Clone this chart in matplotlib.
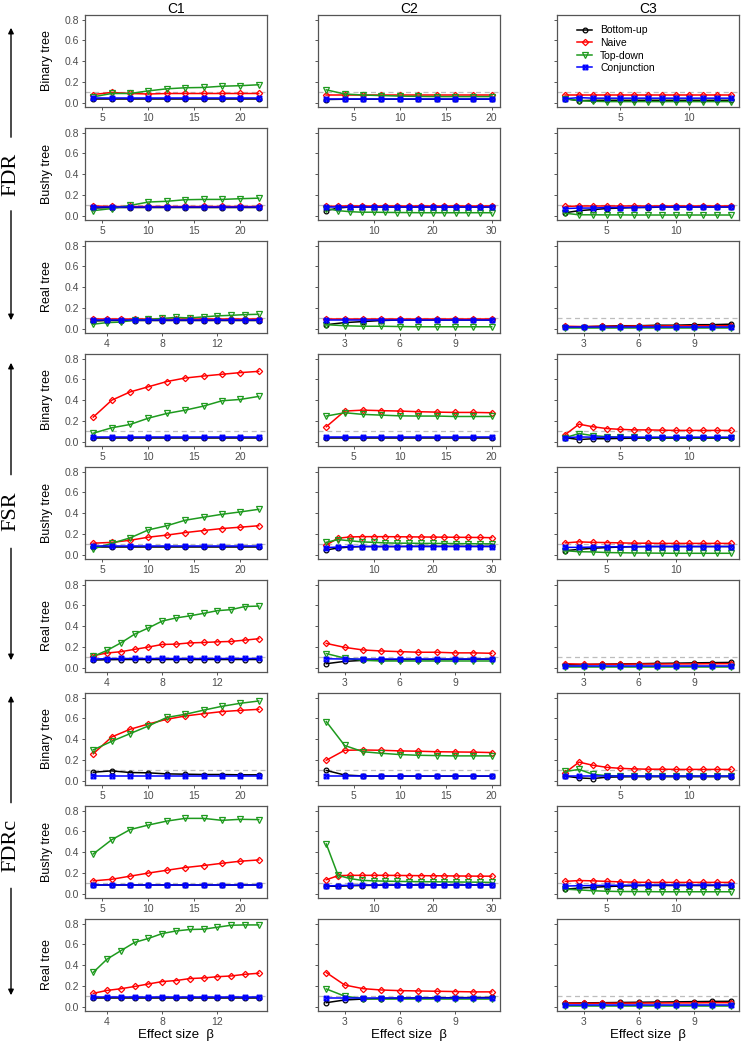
import matplotlib
matplotlib.use("Agg")
import matplotlib.pyplot as plt
from matplotlib.path import Path
from matplotlib.patches import FancyArrowPatch

# x values (effect size beta) for each column / tree type
x_c1_tree = [4, 6, 8, 10, 12, 14, 16, 18, 20, 22]
x_c1_real = [3, 4, 5, 6, 7, 8, 9, 10, 11, 12, 13, 14, 15]
x_c2_bin = [2, 4, 6, 8, 10, 12, 14, 16, 18, 20]
x_c2_bushy = [2, 4, 6, 8, 10, 12, 14, 16, 18, 20, 22, 24, 26, 28, 30]
x_c2_real = [2, 3, 4, 5, 6, 7, 8, 9, 10, 11]
x_c3_bin = [1, 2, 3, 4, 5, 6, 7, 8, 9, 10, 11, 12, 13]
x_c3_bushy = [2, 3, 4, 5, 6, 7, 8, 9, 10, 11, 12, 13, 14]
x_c3_real = [2, 3, 4, 5, 6, 7, 8, 9, 10, 11]

methods = ["Bottom-up", "Naive", "Top-down", "Conjunction"]
row_names = ["Binary tree", "Bushy tree", "Real tree"]
col_names = ["C1", "C2", "C3"]
metrics = ["FDR", "FSR", "FDRc"]

# each panel: [bottom-up, naive, top-down, conjunction]
# ---------------- FDR ----------------
fdr_bin_c1 = [
    [0.04, 0.04, 0.04, 0.04, 0.04, 0.04, 0.04, 0.04, 0.04, 0.04],
    [0.08, 0.10, 0.09, 0.085, 0.09, 0.09, 0.09, 0.09, 0.09, 0.09],
    [0.058, 0.09, 0.09, 0.115, 0.135, 0.145, 0.148, 0.16, 0.165, 0.174],
    [0.045, 0.045, 0.045, 0.045, 0.045, 0.045, 0.045, 0.045, 0.045, 0.045],
]
fdr_bin_c2 = [
    [0.032, 0.035, 0.035, 0.035, 0.035, 0.035, 0.035, 0.035, 0.035, 0.035],
    [0.08, 0.08, 0.08, 0.08, 0.08, 0.08, 0.08, 0.08, 0.08, 0.08],
    [0.125, 0.085, 0.075, 0.07, 0.065, 0.062, 0.06, 0.06, 0.06, 0.06],
    [0.04, 0.04, 0.04, 0.04, 0.04, 0.04, 0.04, 0.04, 0.04, 0.04],
]
fdr_bin_c3 = [
    [0.04, 0.02, 0.025, 0.025, 0.025, 0.025, 0.025, 0.025, 0.025, 0.025, 0.025, 0.025, 0.025],
    [0.08, 0.08, 0.08, 0.08, 0.08, 0.08, 0.08, 0.08, 0.08, 0.08, 0.08, 0.08, 0.08],
    [0.04, 0.02, 0.015, 0.012, 0.012, 0.012, 0.012, 0.012, 0.012, 0.012, 0.012, 0.012, 0.012],
    [0.04, 0.05, 0.045, 0.045, 0.045, 0.045, 0.045, 0.045, 0.045, 0.045, 0.045, 0.045, 0.045],
]
fdr_bushy_c1 = [
    [0.075, 0.08, 0.08, 0.08, 0.08, 0.08, 0.08, 0.08, 0.08, 0.08],
    [0.095, 0.09, 0.09, 0.09, 0.09, 0.09, 0.09, 0.09, 0.09, 0.09],
    [0.05, 0.07, 0.10, 0.133, 0.14, 0.155, 0.158, 0.158, 0.165, 0.17],
    [0.085, 0.085, 0.085, 0.085, 0.085, 0.085, 0.085, 0.085, 0.085, 0.085],
]
fdr_bushy_c2 = [
    [0.05, 0.075, 0.085, 0.085, 0.085, 0.085, 0.085, 0.085, 0.085, 0.085, 0.085, 0.085, 0.085, 0.085, 0.085],
    [0.09, 0.095, 0.095, 0.095, 0.095, 0.095, 0.095, 0.095, 0.095, 0.095, 0.095, 0.095, 0.095, 0.095, 0.095],
    [0.07, 0.05, 0.04, 0.035, 0.035, 0.033, 0.032, 0.031, 0.03, 0.03, 0.03, 0.03, 0.03, 0.03, 0.03],
    [0.085, 0.085, 0.085, 0.085, 0.085, 0.085, 0.085, 0.085, 0.085, 0.085, 0.085, 0.085, 0.085, 0.085, 0.085],
]
fdr_bushy_c3 = [
    [0.03, 0.05, 0.06, 0.07, 0.075, 0.08, 0.08, 0.085, 0.085, 0.085, 0.085, 0.085, 0.085],
    [0.09, 0.095, 0.095, 0.095, 0.095, 0.095, 0.095, 0.095, 0.095, 0.095, 0.095, 0.095, 0.095],
    [0.025, 0.01, 0.01, 0.009, 0.009, 0.008, 0.008, 0.008, 0.008, 0.008, 0.008, 0.008, 0.008],
    [0.07, 0.075, 0.075, 0.08, 0.08, 0.08, 0.085, 0.085, 0.085, 0.085, 0.085, 0.085, 0.085],
]
fdr_real_c1 = [
    [0.075, 0.08, 0.08, 0.08, 0.08, 0.08, 0.08, 0.08, 0.08, 0.08, 0.08, 0.08, 0.08],
    [0.09, 0.09, 0.09, 0.09, 0.09, 0.09, 0.09, 0.09, 0.09, 0.09, 0.09, 0.09, 0.09],
    [0.045, 0.06, 0.065, 0.085, 0.09, 0.10, 0.11, 0.105, 0.115, 0.125, 0.13, 0.137, 0.14],
    [0.085, 0.085, 0.085, 0.085, 0.085, 0.085, 0.085, 0.085, 0.085, 0.085, 0.085, 0.085, 0.085],
]
fdr_real_c2 = [
    [0.04, 0.06, 0.07, 0.08, 0.085, 0.085, 0.085, 0.085, 0.085, 0.085],
    [0.09, 0.09, 0.09, 0.09, 0.09, 0.09, 0.09, 0.09, 0.09, 0.09],
    [0.04, 0.03, 0.025, 0.025, 0.022, 0.02, 0.02, 0.02, 0.02, 0.02],
    [0.085, 0.085, 0.085, 0.085, 0.085, 0.085, 0.085, 0.085, 0.085, 0.085],
]
fdr_real_c3 = [
    [0.02, 0.02, 0.025, 0.03, 0.03, 0.035, 0.035, 0.04, 0.04, 0.045],
    [0.025, 0.022, 0.025, 0.025, 0.028, 0.028, 0.03, 0.03, 0.03, 0.03],
    [0.005, 0.005, 0.005, 0.005, 0.005, 0.005, 0.005, 0.005, 0.005, 0.005],
    [0.015, 0.015, 0.015, 0.015, 0.015, 0.015, 0.015, 0.015, 0.015, 0.015],
]
# ---------------- FSR ----------------
fsr_bin_c1 = [
    [0.04, 0.04, 0.04, 0.04, 0.04, 0.04, 0.04, 0.04, 0.04, 0.04],
    [0.238, 0.40, 0.48, 0.53, 0.58, 0.614, 0.633, 0.65, 0.666, 0.678],
    [0.083, 0.135, 0.167, 0.228, 0.273, 0.305, 0.344, 0.395, 0.408, 0.437],
    [0.045, 0.045, 0.045, 0.045, 0.045, 0.045, 0.045, 0.045, 0.045, 0.045],
]
fsr_bin_c2 = [
    [0.035, 0.035, 0.035, 0.035, 0.035, 0.035, 0.035, 0.035, 0.035, 0.035],
    [0.145, 0.296, 0.305, 0.30, 0.296, 0.29, 0.286, 0.283, 0.283, 0.28],
    [0.248, 0.28, 0.264, 0.257, 0.25, 0.248, 0.248, 0.244, 0.244, 0.244],
    [0.045, 0.045, 0.045, 0.045, 0.045, 0.045, 0.045, 0.045, 0.045, 0.045],
]
fsr_bin_c3 = [
    [0.04, 0.022, 0.03, 0.03, 0.033, 0.035, 0.035, 0.035, 0.035, 0.035, 0.035, 0.035, 0.035],
    [0.07, 0.17, 0.145, 0.128, 0.12, 0.115, 0.115, 0.112, 0.11, 0.11, 0.11, 0.11, 0.11],
    [0.04, 0.08, 0.06, 0.05, 0.045, 0.042, 0.04, 0.04, 0.04, 0.04, 0.04, 0.04, 0.04],
    [0.04, 0.047, 0.045, 0.045, 0.045, 0.045, 0.045, 0.045, 0.045, 0.045, 0.045, 0.045, 0.045],
]
fsr_bushy_c1 = [
    [0.08, 0.08, 0.08, 0.08, 0.08, 0.08, 0.08, 0.08, 0.08, 0.08],
    [0.112, 0.12, 0.14, 0.17, 0.19, 0.214, 0.234, 0.253, 0.266, 0.28],
    [0.058, 0.11, 0.163, 0.24, 0.28, 0.333, 0.362, 0.39, 0.413, 0.438],
    [0.085, 0.085, 0.085, 0.085, 0.085, 0.085, 0.085, 0.085, 0.085, 0.085],
]
fsr_bushy_c2 = [
    [0.047, 0.066, 0.075, 0.08, 0.08, 0.08, 0.08, 0.082, 0.082, 0.082, 0.082, 0.082, 0.082, 0.082, 0.082],
    [0.095, 0.16, 0.172, 0.175, 0.175, 0.175, 0.174, 0.173, 0.172, 0.171, 0.17, 0.169, 0.168, 0.167, 0.165],
    [0.12, 0.147, 0.135, 0.125, 0.12, 0.115, 0.112, 0.112, 0.11, 0.11, 0.109, 0.108, 0.107, 0.106, 0.106],
    [0.07, 0.075, 0.08, 0.08, 0.08, 0.08, 0.08, 0.08, 0.08, 0.08, 0.08, 0.08, 0.08, 0.08, 0.08],
]
fsr_bushy_c3 = [
    [0.04, 0.053, 0.063, 0.07, 0.075, 0.078, 0.08, 0.08, 0.08, 0.08, 0.08, 0.08, 0.08],
    [0.115, 0.125, 0.12, 0.118, 0.115, 0.112, 0.112, 0.11, 0.11, 0.11, 0.11, 0.11, 0.11],
    [0.04, 0.03, 0.028, 0.022, 0.02, 0.018, 0.017, 0.016, 0.015, 0.015, 0.015, 0.015, 0.015],
    [0.072, 0.072, 0.075, 0.077, 0.078, 0.079, 0.08, 0.08, 0.08, 0.08, 0.08, 0.08, 0.08],
]
fsr_real_c1 = [
    [0.075, 0.078, 0.08, 0.08, 0.08, 0.08, 0.08, 0.08, 0.08, 0.08, 0.08, 0.08, 0.08],
    [0.117, 0.143, 0.155, 0.178, 0.2, 0.225, 0.228, 0.24, 0.244, 0.25, 0.254, 0.267, 0.28],
    [0.11, 0.168, 0.24, 0.324, 0.384, 0.45, 0.48, 0.50, 0.524, 0.55, 0.56, 0.59, 0.594],
    [0.085, 0.088, 0.09, 0.09, 0.09, 0.09, 0.09, 0.09, 0.09, 0.09, 0.09, 0.09, 0.09],
]
fsr_real_c2 = [
    [0.04, 0.062, 0.072, 0.078, 0.078, 0.08, 0.08, 0.082, 0.083, 0.084],
    [0.235, 0.197, 0.172, 0.162, 0.156, 0.15, 0.15, 0.144, 0.144, 0.14],
    [0.137, 0.094, 0.072, 0.066, 0.066, 0.066, 0.066, 0.066, 0.066, 0.066],
    [0.087, 0.085, 0.085, 0.085, 0.085, 0.085, 0.085, 0.085, 0.085, 0.085],
]
fsr_real_c3 = [
    [0.03, 0.032, 0.035, 0.038, 0.04, 0.043, 0.045, 0.048, 0.05, 0.052],
    [0.04, 0.035, 0.035, 0.035, 0.037, 0.037, 0.038, 0.038, 0.04, 0.04],
    [0.01, 0.01, 0.01, 0.01, 0.01, 0.01, 0.01, 0.01, 0.01, 0.01],
    [0.02, 0.02, 0.02, 0.02, 0.02, 0.02, 0.02, 0.02, 0.02, 0.02],
]
# ---------------- FDRc ----------------
fdrc_bin_c1 = [
    [0.083, 0.096, 0.08, 0.077, 0.067, 0.064, 0.061, 0.061, 0.058, 0.058],
    [0.26, 0.422, 0.496, 0.547, 0.592, 0.624, 0.646, 0.666, 0.678, 0.688],
    [0.298, 0.38, 0.454, 0.528, 0.61, 0.64, 0.68, 0.717, 0.746, 0.768],
    [0.048, 0.048, 0.048, 0.048, 0.048, 0.048, 0.048, 0.048, 0.048, 0.048],
]
fdrc_bin_c2 = [
    [0.10, 0.056, 0.047, 0.045, 0.045, 0.045, 0.045, 0.045, 0.045, 0.045],
    [0.198, 0.294, 0.297, 0.294, 0.288, 0.285, 0.28, 0.278, 0.276, 0.272],
    [0.57, 0.34, 0.28, 0.265, 0.253, 0.246, 0.243, 0.24, 0.24, 0.24],
    [0.045, 0.045, 0.045, 0.045, 0.045, 0.045, 0.045, 0.045, 0.045, 0.045],
]
fdrc_bin_c3 = [
    [0.045, 0.028, 0.022, 0.035, 0.038, 0.04, 0.04, 0.04, 0.04, 0.04, 0.04, 0.04, 0.04],
    [0.08, 0.18, 0.15, 0.13, 0.12, 0.115, 0.112, 0.112, 0.11, 0.11, 0.11, 0.11, 0.11],
    [0.09, 0.11, 0.063, 0.05, 0.048, 0.046, 0.045, 0.045, 0.045, 0.045, 0.045, 0.045, 0.045],
    [0.045, 0.045, 0.045, 0.045, 0.045, 0.045, 0.045, 0.045, 0.045, 0.045, 0.045, 0.045, 0.045],
]
fdrc_bushy_c1 = [
    [0.085, 0.085, 0.085, 0.085, 0.085, 0.085, 0.085, 0.085, 0.085, 0.085],
    [0.125, 0.14, 0.17, 0.2, 0.227, 0.253, 0.272, 0.294, 0.314, 0.326],
    [0.384, 0.52, 0.618, 0.662, 0.70, 0.726, 0.726, 0.707, 0.717, 0.714],
    [0.085, 0.085, 0.085, 0.085, 0.085, 0.085, 0.085, 0.085, 0.085, 0.085],
]
fdrc_bushy_c2 = [
    [0.075, 0.072, 0.078, 0.08, 0.082, 0.083, 0.084, 0.085, 0.085, 0.085, 0.085, 0.085, 0.085, 0.085, 0.085],
    [0.135, 0.175, 0.178, 0.178, 0.178, 0.178, 0.177, 0.176, 0.175, 0.174, 0.173, 0.172, 0.171, 0.17, 0.17],
    [0.48, 0.178, 0.147, 0.13, 0.125, 0.122, 0.12, 0.118, 0.117, 0.116, 0.115, 0.114, 0.113, 0.112, 0.11],
    [0.075, 0.08, 0.082, 0.085, 0.085, 0.085, 0.085, 0.085, 0.085, 0.085, 0.085, 0.085, 0.085, 0.085, 0.085],
]
fdrc_bushy_c3 = [
    [0.045, 0.055, 0.063, 0.07, 0.075, 0.078, 0.08, 0.08, 0.08, 0.08, 0.08, 0.08, 0.08],
    [0.12, 0.128, 0.125, 0.12, 0.115, 0.112, 0.11, 0.11, 0.11, 0.11, 0.11, 0.11, 0.11],
    [0.045, 0.038, 0.03, 0.025, 0.022, 0.022, 0.021, 0.02, 0.02, 0.02, 0.02, 0.02, 0.02],
    [0.075, 0.078, 0.08, 0.082, 0.083, 0.084, 0.085, 0.085, 0.085, 0.085, 0.085, 0.085, 0.085],
]
fdrc_real_c1 = [
    [0.085, 0.085, 0.085, 0.085, 0.085, 0.085, 0.085, 0.085, 0.085, 0.085, 0.085, 0.085, 0.085],
    [0.13, 0.158, 0.174, 0.196, 0.22, 0.243, 0.253, 0.272, 0.278, 0.29, 0.297, 0.313, 0.323],
    [0.332, 0.459, 0.54, 0.62, 0.658, 0.705, 0.73, 0.744, 0.747, 0.766, 0.785, 0.788, 0.788],
    [0.09, 0.09, 0.09, 0.09, 0.09, 0.09, 0.09, 0.09, 0.09, 0.09, 0.09, 0.09, 0.09],
]
fdrc_real_c2 = [
    [0.04, 0.066, 0.075, 0.08, 0.083, 0.085, 0.087, 0.088, 0.089, 0.09],
    [0.33, 0.21, 0.175, 0.162, 0.156, 0.153, 0.15, 0.147, 0.144, 0.144],
    [0.172, 0.103, 0.078, 0.075, 0.075, 0.075, 0.075, 0.075, 0.075, 0.075],
    [0.088, 0.088, 0.088, 0.088, 0.088, 0.088, 0.088, 0.088, 0.088, 0.088],
]
fdrc_real_c3 = [
    [0.037, 0.038, 0.04, 0.042, 0.044, 0.046, 0.048, 0.05, 0.052, 0.053],
    [0.035, 0.033, 0.035, 0.035, 0.036, 0.037, 0.038, 0.038, 0.04, 0.04],
    [0.01, 0.01, 0.01, 0.01, 0.01, 0.01, 0.01, 0.01, 0.01, 0.01],
    [0.02, 0.02, 0.02, 0.02, 0.02, 0.02, 0.02, 0.02, 0.02, 0.02],
]

panels = [
    [fdr_bin_c1, fdr_bin_c2, fdr_bin_c3],
    [fdr_bushy_c1, fdr_bushy_c2, fdr_bushy_c3],
    [fdr_real_c1, fdr_real_c2, fdr_real_c3],
    [fsr_bin_c1, fsr_bin_c2, fsr_bin_c3],
    [fsr_bushy_c1, fsr_bushy_c2, fsr_bushy_c3],
    [fsr_real_c1, fsr_real_c2, fsr_real_c3],
    [fdrc_bin_c1, fdrc_bin_c2, fdrc_bin_c3],
    [fdrc_bushy_c1, fdrc_bushy_c2, fdrc_bushy_c3],
    [fdrc_real_c1, fdrc_real_c2, fdrc_real_c3],
]
xs = [
    [x_c1_tree, x_c2_bin, x_c3_bin],
    [x_c1_tree, x_c2_bushy, x_c3_bushy],
    [x_c1_real, x_c2_real, x_c3_real],
]
xticks = [
    [[5, 10, 15, 20], [5, 10, 15, 20], [5, 10]],
    [[5, 10, 15, 20], [10, 20, 30], [5, 10]],
    [[4, 8, 12], [3, 6, 9], [3, 6, 9]],
]

# square with a cross, like ggplot shape 7
sq_cross = Path(
    [(-1, -1), (1, -1), (1, 1), (-1, 1), (-1, -1), (-1, -1), (1, 1), (-1, 1), (1, -1)],
    [Path.MOVETO, Path.LINETO, Path.LINETO, Path.LINETO, Path.CLOSEPOLY,
     Path.MOVETO, Path.LINETO, Path.MOVETO, Path.LINETO],
)
colors = ["black", "#FF0000", "#1E9A1E", "#0000FF"]
markers = ["o", "D", "v", sq_cross]
msizes = [3.4, 3.2, 4.0, 3.3]

W, H = 742, 1050
fig = plt.figure(figsize=(W / 100, H / 100), dpi=100)
plt.rcParams["font.family"] = ["Liberation Sans", "DejaVu Sans"]

col_left = [85, 318, 557]
col_w = 182
row_top = [15, 128, 241, 354, 467, 580, 693, 806, 919]
row_h = 92
grey = "#555555"

for r in range(9):
    for c in range(3):
        ax = fig.add_axes([col_left[c] / W, 1 - (row_top[r] + row_h) / H, col_w / W, row_h / H])
        x = xs[r % 3][c]
        data = panels[r][c]
        ax.axhline(0.1, color="#BDBDBD", ls=(0, (4, 3)), lw=0.9, zorder=1)
        for k in range(4):
            ax.plot(x, data[k], color=colors[k], lw=1.1, marker=markers[k],
                    ms=msizes[k], mfc="none", mec=colors[k], mew=0.9,
                    label=methods[k], zorder=2 + k)
        ax.set_ylim(-0.04, 0.845)
        ax.set_xlim(x[0] - 0.05 * (x[-1] - x[0]), x[-1] + 0.05 * (x[-1] - x[0]))
        ax.set_yticks([0.0, 0.2, 0.4, 0.6, 0.8])
        ax.set_xticks(xticks[r % 3][c])
        if c == 0:
            ax.set_yticklabels(["0.0", "0.2", "0.4", "0.6", "0.8"])
        else:
            ax.set_yticklabels([])
        ax.tick_params(length=2.5, width=0.7, color=grey, labelcolor="#4D4D4D",
                       labelsize=7.5, pad=2)
        for s in ax.spines.values():
            s.set_color(grey)
            s.set_linewidth(0.9)
        if c == 0:
            fig.text(47 / W, 1 - (row_top[r] + row_h / 2) / H, row_names[r % 3],
                     rotation=90, ha="center", va="center", fontsize=9)
        if r == 0 and c == 2:
            ax.legend(loc="upper left", bbox_to_anchor=(0.06, 0.99), frameon=False,
                      fontsize=7.5, handlelength=1.4, labelspacing=0.25,
                      handletextpad=0.8)

for c in range(3):
    cx = (col_left[c] + col_w / 2) / W
    fig.text(cx, 1 - 9 / H, col_names[c], ha="center", va="center", fontsize=10)
    fig.text(cx, 1 - 1035 / H, "Effect size  β", ha="center", va="center", fontsize=9.5)

# metric group labels with arrows
groups = [(25, 323), (360, 663), (693, 998)]
for g, (top, bot) in enumerate(groups):
    mid = (top + bot) / 2
    fig.text(11 / W, 1 - mid / H, metrics[g], rotation=90, ha="center", va="center",
             fontsize=16, family="Liberation Serif")
    gap = 34 if g < 2 else 40
    for y0, y1 in [(mid - gap, top), (mid + gap, bot)]:
        arr = FancyArrowPatch((11 / W, 1 - y0 / H), (11 / W, 1 - y1 / H),
                              transform=fig.transFigure, arrowstyle="-|>",
                              mutation_scale=8, lw=1.0, color="black")
        fig.add_artist(arr)

fig.savefig("out.png", dpi=100)
